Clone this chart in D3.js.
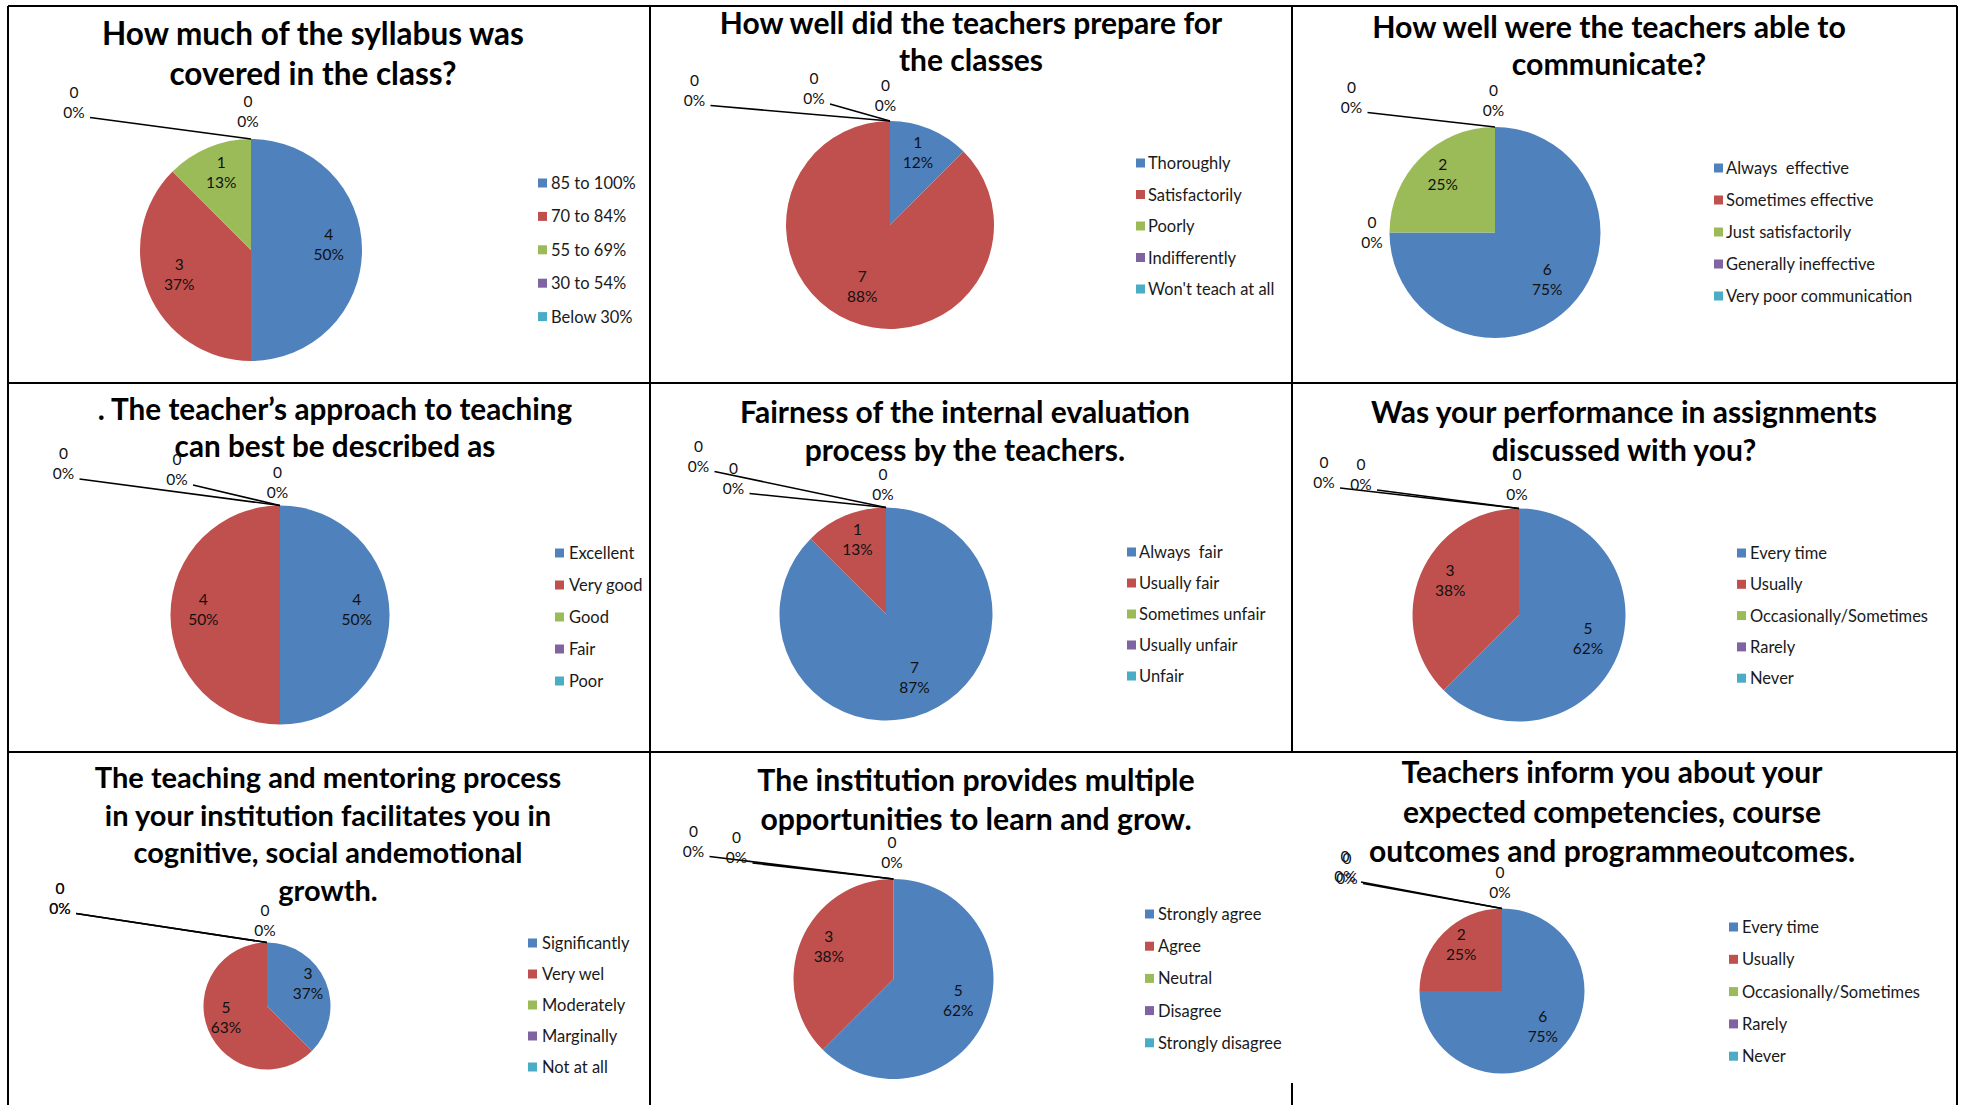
<!DOCTYPE html>
<html>
<head>
<meta charset="utf-8">
<script src="https://cdn.jsdelivr.net/npm/d3@7"></script>
<style>
  html, body { margin: 0; padding: 0; background: #fff; }
  svg { display: block; }
  text { white-space: pre; }
</style>
</head>
<body>
<svg id="chart" width="1965" height="1105"></svg>
<script>
// ---------- DATA ----------
const colors = ["#4F81BD", "#C0504D", "#9BBB59", "#8064A2", "#4BACC6"];

const title1 = ["How much of the syllabus was", "covered in the class?"];
const categories1 = ["85 to 100%", "70 to 84%", "55 to 69%", "30 to 54%", "Below 30%"];
const values1 = [4, 3, 1, 0, 0];
const percents1 = ["50%", "37%", "13%", "0%", "0%"];

const title2 = ["How well did the teachers prepare for", "the classes"];
const categories2 = ["Thoroughly", "Satisfactorily", "Poorly", "Indifferently", "Won't teach at all"];
const values2 = [1, 7, 0, 0, 0];
const percents2 = ["12%", "88%", "0%", "0%", "0%"];

const title3 = ["How well were the teachers able to", "communicate?"];
const categories3 = ["Always  effective", "Sometimes effective", "Just satisfactorily", "Generally ineffective", "Very poor communication"];
const values3 = [6, 0, 2, 0, 0];
const percents3 = ["75%", "0%", "25%", "0%", "0%"];

const title4 = [". The teacher\u2019s approach to teaching", "can best be described as"];
const categories4 = ["Excellent", "Very good", "Good", "Fair", "Poor"];
const values4 = [4, 4, 0, 0, 0];
const percents4 = ["50%", "50%", "0%", "0%", "0%"];

const title5 = ["Fairness of the internal evaluation", "process by the teachers."];
const categories5 = ["Always  fair", "Usually fair", "Sometimes unfair", "Usually unfair", "Unfair"];
const values5 = [7, 1, 0, 0, 0];
const percents5 = ["87%", "13%", "0%", "0%", "0%"];

const title6 = ["Was your performance in assignments", "discussed with you?"];
const categories6 = ["Every time", "Usually", "Occasionally/Sometimes", "Rarely", "Never"];
const values6 = [5, 3, 0, 0, 0];
const percents6 = ["62%", "38%", "0%", "0%", "0%"];

const title7 = ["The teaching and mentoring process", "in your institution facilitates you in", "cognitive, social andemotional", "growth."];
const categories7 = ["Significantly", "Very wel", "Moderately", "Marginally", "Not at all"];
const values7 = [3, 5, 0, 0, 0];
const percents7 = ["37%", "63%", "0%", "0%", "0%"];

const title8 = ["The institution provides multiple", "opportunities to learn and grow."];
const categories8 = ["Strongly agree", "Agree", "Neutral", "Disagree", "Strongly disagree"];
const values8 = [5, 3, 0, 0, 0];
const percents8 = ["62%", "38%", "0%", "0%", "0%"];

const title9 = ["Teachers inform you about your", "expected competencies, course", "outcomes and programmeoutcomes."];
const categories9 = ["Every time", "Usually", "Occasionally/Sometimes", "Rarely", "Never"];
const values9 = [6, 2, 0, 0, 0];
const percents9 = ["75%", "25%", "0%", "0%", "0%"];

// ---------- LAYOUT (positions / sizes only) ----------
const layout = [
  {tx: 313, ty: 45, tl: 40, fs: 31.5, cx: 251, cy: 250, r: 111, sx: 538, lx: 551, ly: 183, ls: 33.4,
   zero: {3: [-177, -37.5, true], 4: [-3, -28, false]}},
  {tx: 971, ty: 34, tl: 37, fs: 30, cx: 890, cy: 225, r: 104, sx: 1136, lx: 1148, ly: 163, ls: 31.5,
   zero: {2: [-195.5, -31.5, true], 3: [-76, -33, true], 4: [-4.5, -26, false]}},
  {tx: 1609, ty: 37.5, tl: 37, fs: 30.3, cx: 1495, cy: 232.5, r: 105.5, sx: 1714, lx: 1726, ly: 168, ls: 32,
   zero: {1: [-17.5, -1, false], 3: [-143.5, -30.5, true], 4: [-1.5, -27, false]}},
  {tx: 335, ty: 420, tl: 36.5, fs: 29.7, cx: 280, cy: 615, r: 109.5, sx: 555, lx: 569, ly: 553, ls: 32,
   zero: {2: [-216.5, -42.5, true], 3: [-103, -36.5, true], 4: [-2.5, -23.5, false]}},
  {tx: 965, ty: 423, tl: 37.5, fs: 30, cx: 886, cy: 614, r: 106.5, sx: 1127, lx: 1139, ly: 552, ls: 31,
   zero: {2: [-187.5, -52, true], 3: [-152.5, -30, true], 4: [-3, -23.5, false]}},
  {tx: 1624, ty: 423, tl: 37.5, fs: 30, cx: 1519, cy: 615, r: 106.5, sx: 1737, lx: 1750, ly: 553, ls: 31.3,
   zero: {2: [-195, -36.5, true], 3: [-158, -34.5, true], 4: [-2, -24.5, false]}},
  {tx: 328, ty: 788, tl: 37.7, fs: 29, cx: 267, cy: 1006, r: 63.5, sx: 528, lx: 542, ly: 943, ls: 31,
   zero: {2: [-207, -45, true], 3: [-207, -45, true], 4: [-2, -23, false]}},
  {tx: 976, ty: 791, tl: 39, fs: 30.2, cx: 893.5, cy: 979, r: 100, sx: 1145, lx: 1158, ly: 914, ls: 32.2,
   zero: {2: [-200, -38.5, true], 3: [-157, -32, true], 4: [-1.5, -27.5, false]}},
  {tx: 1612, ty: 783, tl: 39.5, fs: 30, cx: 1502, cy: 991, r: 82.5, sx: 1729, lx: 1742, ly: 927, ls: 32.3,
   zero: {2: [-157, -42.5, true], 3: [-155, -41, true], 4: [-2, -27, false]}}
];

const charts = [
  {title: title1, categories: categories1, values: values1, percents: percents1},
  {title: title2, categories: categories2, values: values2, percents: percents2},
  {title: title3, categories: categories3, values: values3, percents: percents3},
  {title: title4, categories: categories4, values: values4, percents: percents4},
  {title: title5, categories: categories5, values: values5, percents: percents5},
  {title: title6, categories: categories6, values: values6, percents: percents6},
  {title: title7, categories: categories7, values: values7, percents: percents7},
  {title: title8, categories: categories8, values: values8, percents: percents8},
  {title: title9, categories: categories9, values: values9, percents: percents9}
];

// ---------- DRAW ----------
const FONT = "Lato, 'Open Sans', sans-serif";
const LABEL_LIFT = 6;
const svg = d3.select("#chart");
svg.append("rect").attr("width", 1965).attr("height", 1105).attr("fill", "#fff");

const color = d3.scaleOrdinal().domain(d3.range(5)).range(colors);
const pie = d3.pie().sort(null).value(d => d.value);

function dataLabel(g, x, y, v, p) {
  g.append("text").attr("x", x).attr("y", y - 10)
    .attr("text-anchor", "middle").attr("dominant-baseline", "central")
    .attr("font-family", FONT).attr("font-size", 15.5)
    .attr("fill", "#111").text(v);
  g.append("text").attr("x", x).attr("y", y + 10)
    .attr("text-anchor", "middle").attr("dominant-baseline", "central")
    .attr("font-family", FONT).attr("font-size", 15.5)
    .attr("fill", "#111").text(p);
}

charts.forEach((c, ci) => {
  const L = layout[ci];
  const g = svg.append("g");
  const data = c.values.map((v, i) => ({value: v, index: i, cat: c.categories[i], pct: c.percents[i]}));
  const arcs = pie(data);
  const arc = d3.arc().innerRadius(0).outerRadius(L.r);
  const labelArc = d3.arc().innerRadius(L.r * 0.7).outerRadius(L.r * 0.7);

  // slices
  const pg = g.append("g").attr("transform", `translate(${L.cx},${L.cy})`);
  pg.selectAll("path").data(arcs.filter(a => a.value > 0)).join("path")
    .attr("d", arc)
    .attr("fill", d => color(d.data.index));

  // title
  c.title.forEach((t, i) => {
    g.append("text").attr("x", L.tx).attr("y", L.ty + i * L.tl)
      .attr("text-anchor", "middle")
      .attr("font-family", FONT).attr("font-weight", "bold")
      .attr("font-size", L.fs).attr("fill", "#000").text(t);
  });

  // leader lines + zero labels
  arcs.forEach(a => {
    if (a.value > 0) return;
    const z = L.zero[a.data.index];
    if (!z) return;
    const ax = L.cx + L.r * Math.sin(a.startAngle);
    const ay = L.cy - L.r * Math.cos(a.startAngle);
    const x = ax + z[0], y = ay + z[1];
    if (z[2]) {
      g.append("line")
        .attr("x1", x + 16).attr("y1", y + 16)
        .attr("x2", ax).attr("y2", ay)
        .attr("stroke", "#000").attr("stroke-width", 1.6);
    }
    dataLabel(g, x, y, a.data.value, a.data.pct);
  });

  // non-zero labels
  arcs.filter(a => a.value > 0).forEach(a => {
    const [px, py] = labelArc.centroid(a);
    dataLabel(g, L.cx + px, L.cy + py - LABEL_LIFT, a.data.value, a.data.pct);
  });

  // legend
  const lg = g.append("g");
  const rows = lg.selectAll("g").data(data).join("g")
    .attr("transform", (d, i) => `translate(0,${L.ly + i * L.ls})`);
  rows.append("rect").attr("x", L.sx).attr("y", -4.5).attr("width", 9).attr("height", 9)
    .attr("fill", d => color(d.index));
  rows.append("text").attr("x", L.lx).attr("y", 0).attr("dominant-baseline", "central")
    .attr("font-family", FONT).attr("font-size", 16.5)
    .attr("fill", "#1a1a1a").text(d => d.cat);
});

// table grid
const grid = [
  [8, 6, 1957, 6], [8, 383, 1957, 383], [8, 752, 1957, 752],
  [8, 6, 8, 1105], [650, 6, 650, 1105], [1292, 6, 1292, 752], [1292, 1083, 1292, 1105],
  [1957, 6, 1957, 1105]
];
svg.append("g").selectAll("line").data(grid).join("line")
  .attr("x1", d => d[0]).attr("y1", d => d[1]).attr("x2", d => d[2]).attr("y2", d => d[3])
  .attr("stroke", "#000").attr("stroke-width", 2);
</script>
</body>
</html>
